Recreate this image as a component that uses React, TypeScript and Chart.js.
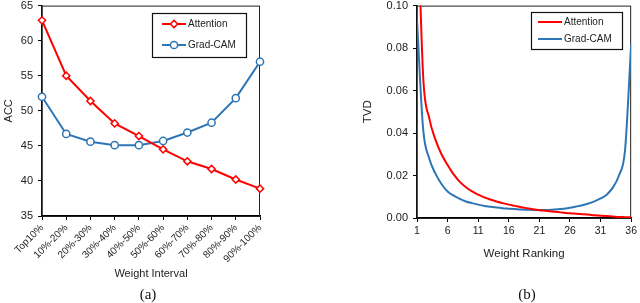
import React, { useEffect, useRef } from 'react';
import { Chart, registerables } from 'chart.js';

Chart.register(...registerables);

// ---------- Data ----------
const intervals = ['Top10%', '10%-20%', '20%-30%', '30%-40%', '40%-50%', '50%-60%', '60%-70%', '70%-80%', '80%-90%', '90%-100%'];
const attentionAcc = [62.9, 55.0, 51.4, 48.2, 46.4, 44.5, 42.8, 41.7, 40.2, 38.9];
const gradcamAcc = [52.0, 46.7, 45.6, 45.1, 45.1, 45.7, 46.9, 48.3, 51.8, 57.0];

const rankings = [1, 2, 3, 4, 5, 6, 7, 8, 9, 10, 11, 12, 13, 14, 15, 16, 17, 18, 19, 20, 21, 22, 23, 24, 25, 26, 27, 28, 29, 30, 31, 32, 33, 34, 35, 36];
const attentionTvd = [0.155, 0.067, 0.047, 0.037, 0.030, 0.025, 0.0205, 0.017, 0.0145, 0.0125, 0.011, 0.0097, 0.0087, 0.0078, 0.007, 0.0063, 0.0057, 0.0051, 0.0046, 0.0041, 0.0037, 0.0034, 0.0031, 0.0028, 0.0025, 0.0022, 0.002, 0.0018, 0.0016, 0.0013, 0.0011, 0.0009, 0.0007, 0.0005, 0.0004, 0.0003];
const gradcamTvd = [0.093, 0.042, 0.028, 0.021, 0.016, 0.0125, 0.0105, 0.009, 0.0078, 0.007, 0.0063, 0.0057, 0.0053, 0.0049, 0.0046, 0.0044, 0.0042, 0.004, 0.0039, 0.0038, 0.0038, 0.0038, 0.0039, 0.0041, 0.0044, 0.0048, 0.0054, 0.006, 0.0068, 0.0078, 0.0092, 0.011, 0.0143, 0.02, 0.032, 0.082];

const seriesNames = ['Attention', 'Grad-CAM'];
const RED = '#FF0000';
const BLUE = '#2E75B6';
const TEXT = '#222222';
const FONT = '"Liberation Sans", Arial, sans-serif';
const SHIFT = 6; // canvases are placed 6px above the page top

// ---------- Plugins ----------
const frame = {
  id: 'frame',
  beforeDatasetsDraw(chart: any) {
    const { ctx, chartArea: a } = chart;
    ctx.save();
    ctx.strokeStyle = '#222';
    ctx.lineWidth = 1;
    ctx.strokeRect(a.left, a.top + 0.5, a.right - a.left - 0.5, a.bottom - a.top);
    ctx.restore();
  },
};

const boxLegend = {
  id: 'boxLegend',
  afterDatasetsDraw(chart: any, _args: any, o: any) {
    const { ctx } = chart;
    ctx.save();
    ctx.fillStyle = '#fff';
    ctx.fillRect(o.x, o.y, o.w, o.h);
    ctx.strokeStyle = '#111';
    ctx.lineWidth = 1.2;
    ctx.strokeRect(o.x + 0.5, o.y + 0.5, o.w, o.h);
    chart.data.datasets.forEach((ds: any, i: number) => {
      const y = o.rows[i];
      ctx.strokeStyle = ds.borderColor;
      ctx.lineWidth = ds.borderWidth;
      ctx.beginPath();
      ctx.moveTo(o.lx0, y);
      ctx.lineTo(o.lx1, y);
      ctx.stroke();
      if (o.markers) {
        const cx = (o.lx0 + o.lx1) / 2;
        const r = ds.pointRadius;
        ctx.fillStyle = '#fff';
        ctx.lineWidth = ds.pointBorderWidth;
        ctx.beginPath();
        if (ds.pointStyle === 'rectRot') {
          ctx.moveTo(cx, y - r);
          ctx.lineTo(cx + r, y);
          ctx.lineTo(cx, y + r);
          ctx.lineTo(cx - r, y);
          ctx.closePath();
        } else {
          ctx.arc(cx, y, r, 0, Math.PI * 2);
        }
        ctx.fill();
        ctx.stroke();
      }
      ctx.fillStyle = TEXT;
      ctx.font = `10px ${FONT}`;
      ctx.textBaseline = 'middle';
      ctx.textAlign = 'left';
      ctx.fillText(ds.label, o.tx, y);
    });
    ctx.restore();
  },
};

const xTickFont = { family: FONT, size: 10 };
const yTickFont = { family: FONT, size: 11 };

function LeftChart() {
  const ref = useRef<HTMLCanvasElement>(null);
  useEffect(() => {
    const chart = new Chart(ref.current as HTMLCanvasElement, {
      type: 'line',
      data: {
        labels: intervals,
        datasets: [
          {
            label: seriesNames[0],
            data: attentionAcc,
            borderColor: RED,
            backgroundColor: '#fff',
            borderWidth: 2,
            pointStyle: 'rectRot',
            pointRadius: 3.6,
            pointBorderWidth: 1.5,
            pointBackgroundColor: '#fff',
            pointBorderColor: RED,
            tension: 0,
            clip: false,
          } as any,
          {
            label: seriesNames[1],
            data: gradcamAcc,
            borderColor: BLUE,
            backgroundColor: '#fff',
            borderWidth: 2,
            pointStyle: 'circle',
            pointRadius: 3.6,
            pointBorderWidth: 1.5,
            pointBackgroundColor: '#fff',
            pointBorderColor: BLUE,
            tension: 0,
            clip: false,
          } as any,
        ],
      },
      options: {
        responsive: false,
        animation: false,
        devicePixelRatio: 1,
        layout: { padding: { left: 0, top: 0, right: 60, bottom: 0 } },
        plugins: {
          legend: { display: false },
          tooltip: { enabled: false },
          boxLegend: { x: 152, y: 13 + SHIFT, w: 94, h: 44, rows: [24 + SHIFT, 45 + SHIFT], lx0: 162, lx1: 186, tx: 188, markers: true },
        } as any,
        scales: {
          x: {
            type: 'category',
            offset: false,
            grid: { drawOnChartArea: false, drawTicks: true, tickLength: 4, color: '#000', lineWidth: 1 },
            border: { color: '#000', width: 1.5 },
            ticks: { color: TEXT, font: xTickFont, minRotation: 45, maxRotation: 45, autoSkip: false, padding: 2 },
            title: { display: true, text: 'Weight Interval', color: TEXT, font: { family: FONT, size: 11 }, padding: { top: 0, bottom: 22 } },
            afterFit: (s: any) => { s.height = 87; },
          },
          y: {
            min: 35,
            max: 65,
            ticks: { stepSize: 5, color: TEXT, font: yTickFont, padding: 5 },
            grid: { drawOnChartArea: false, drawTicks: true, tickLength: 4, color: '#000', lineWidth: 1 },
            border: { color: '#000', width: 1.5 },
            title: { display: true, text: 'ACC', color: TEXT, font: { family: FONT, size: 11 }, padding: { top: 2, bottom: 0 } },
            afterFit: (s: any) => { s.width = 42; },
          },
        },
      } as any,
      plugins: [frame, boxLegend],
    });
    return () => chart.destroy();
  }, []);
  return <canvas ref={ref} width={320} height={303 + SHIFT} style={{ display: 'block' }} />;
}

function RightChart() {
  const ref = useRef<HTMLCanvasElement>(null);
  useEffect(() => {
    const chart = new Chart(ref.current as HTMLCanvasElement, {
      type: 'line',
      data: {
        datasets: [
          {
            label: seriesNames[0],
            data: rankings.map((r, i) => ({ x: r, y: attentionTvd[i] })),
            borderColor: RED,
            borderWidth: 2,
            pointRadius: 0,
            cubicInterpolationMode: 'monotone',
          } as any,
          {
            label: seriesNames[1],
            data: rankings.map((r, i) => ({ x: r, y: gradcamTvd[i] })),
            borderColor: BLUE,
            borderWidth: 2,
            pointRadius: 0,
            cubicInterpolationMode: 'monotone',
          } as any,
        ],
      },
      options: {
        responsive: false,
        animation: false,
        devicePixelRatio: 1,
        layout: { padding: { left: 0, top: 0, right: 7, bottom: 0 } },
        plugins: {
          legend: { display: false },
          tooltip: { enabled: false },
          boxLegend: { x: 211, y: 12 + SHIFT, w: 91, h: 37, rows: [22 + SHIFT, 39 + SHIFT], lx0: 218, lx1: 242, tx: 244, markers: false },
        } as any,
        scales: {
          x: {
            type: 'linear',
            min: 1,
            max: 36,
            ticks: { stepSize: 5, color: TEXT, font: { family: FONT, size: 10.5 }, padding: 3, maxRotation: 0 },
            grid: { drawOnChartArea: false, drawTicks: true, tickLength: 4, color: '#000', lineWidth: 1 },
            border: { color: '#000', width: 1.5 },
            title: { display: true, text: 'Weight Ranking', color: TEXT, font: { family: FONT, size: 11.5 }, padding: { top: 0, bottom: 42 } },
            afterFit: (s: any) => { s.height = 85; },
          },
          y: {
            min: 0,
            max: 0.1,
            ticks: { stepSize: 0.02, color: TEXT, font: yTickFont, padding: 5, callback: (v: any) => Number(v).toFixed(2) },
            grid: { drawOnChartArea: false, drawTicks: true, tickLength: 4, color: '#000', lineWidth: 1 },
            border: { color: '#000', width: 1.5 },
            title: { display: true, text: 'TVD', color: TEXT, font: { family: FONT, size: 11.5 }, padding: { top: 41, bottom: 0 } },
            afterFit: (s: any) => { s.width = 97; },
          },
        },
      } as any,
      plugins: [frame, boxLegend],
    });
    return () => chart.destroy();
  }, []);
  return <canvas ref={ref} width={320} height={303 + SHIFT} style={{ display: 'block' }} />;
}

export default function App() {
  const caption: React.CSSProperties = {
    position: 'absolute',
    top: 285,
    width: 40,
    textAlign: 'center',
    fontFamily: '"Liberation Serif", "Times New Roman", serif',
    fontSize: 15,
    lineHeight: '18px',
    color: '#111',
  };
  return (
    <div style={{ position: 'absolute', left: 0, top: 0, width: 640, height: 303, background: '#fff', overflow: 'hidden' }}>
      <div style={{ position: 'absolute', left: 0, top: -SHIFT, width: 320, height: 303 + SHIFT }}>
        <LeftChart />
      </div>
      <div style={{ position: 'absolute', left: 320, top: -SHIFT, width: 320, height: 303 + SHIFT }}>
        <RightChart />
      </div>
      <div style={{ ...caption, left: 128 }}>(a)</div>
      <div style={{ ...caption, left: 507 }}>(b)</div>
    </div>
  );
}
